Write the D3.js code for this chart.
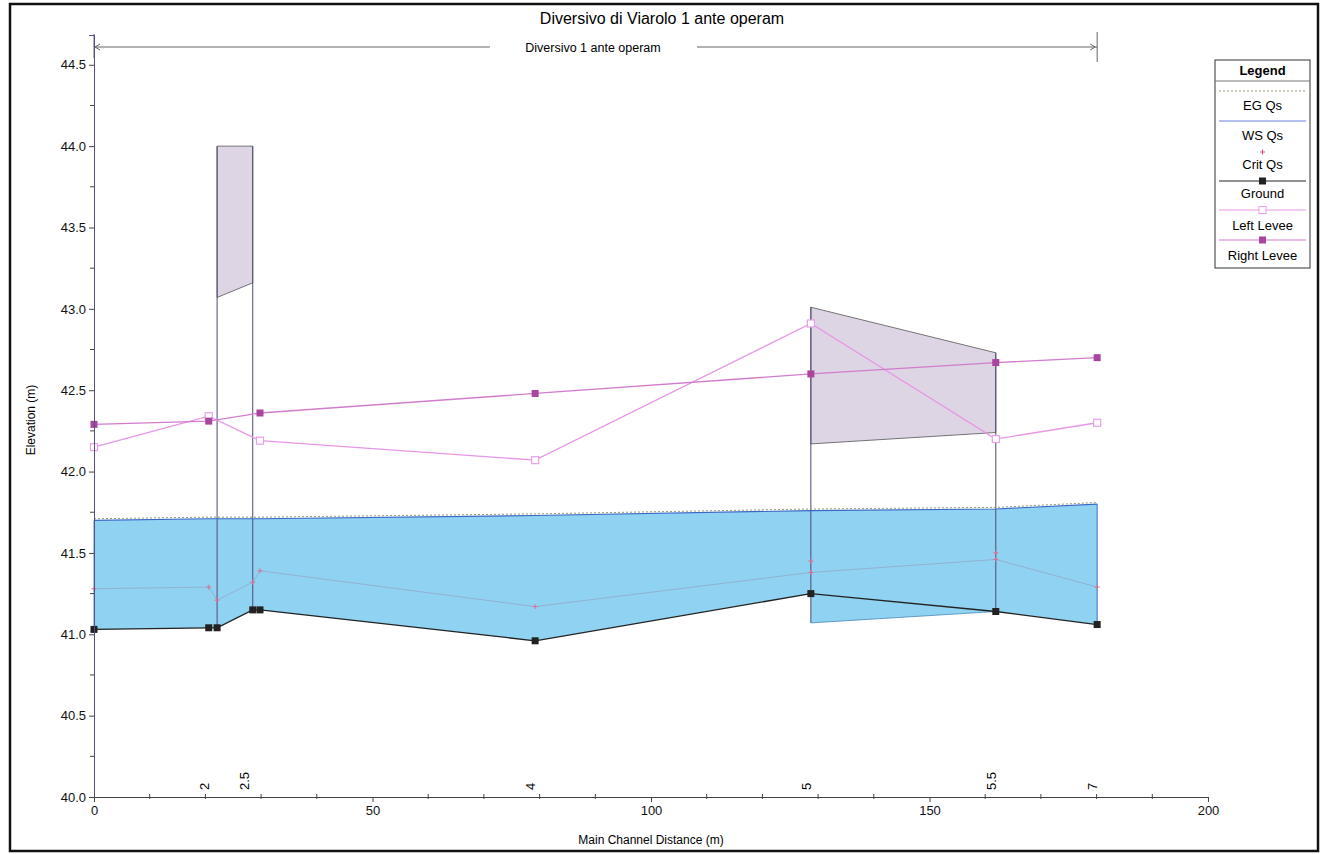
<!DOCTYPE html>
<html>
<head>
<meta charset="utf-8">
<script src="https://cdn.jsdelivr.net/npm/d3@7"></script>
<style>
  body { margin: 0; background: #fff; }
  svg { font-family: Arial, "Liberation Sans", sans-serif; }
</style>
</head>
<body>
<svg id="chart" width="1324" height="854"></svg>
<script>
// Stazioni del profilo (distanza lungo il canale, m)
const stations = [0, 20.6, 22.1, 28.5, 29.8, 79.2, 128.7, 161.9, 180.1]
const ground = [41.03, 41.04, 41.04, 41.15, 41.15, 40.96, 41.25, 41.14, 41.06]
const wsQs = [41.70, 41.71, 41.71, 41.71, 41.71, 41.73, 41.76, 41.77, 41.80]
const egQs = [41.71, 41.72, 41.72, 41.72, 41.72, 41.74, 41.77, 41.78, 41.81]
const critQs = [41.28, 41.29, 41.21, 41.32, 41.39, 41.17, 41.38, 41.46, 41.29]

// punti critici interni alla struttura
const critInnerStations = [128.7, 161.9]
const critInner = [41.45, 41.50]

// argini
const leveeStations = [0, 20.6, 29.8, 79.2, 128.7, 161.9, 180.1]
const leftLevee = [42.15, 42.34, 42.19, 42.07, 42.91, 42.20, 42.30]
const rightLevee = [42.29, 42.31, 42.36, 42.48, 42.60, 42.67, 42.70]

// ponte (sezione 2.5)
const bridgeStations = [22.1, 28.5]
const bridgeHigh = [44.0, 44.0]
const bridgeLow = [43.07, 43.16]
const bridgeGround = [41.04, 41.15]

// tombino / struttura tra 5 e 5.5
const culvertStations = [128.7, 161.9]
const culvertHigh = [43.01, 42.73]
const culvertLow = [42.17, 42.24]
const culvertInvert = [41.07, 41.14]

// etichette delle sezioni
const sectionLabels = ['2', '2.5', '4', '5', '5.5', '7']
const sectionPos = [20.6, 27.8, 79.2, 128.7, 161.9, 180.1]

const xTicks = [0, 50, 100, 150, 200]
const yTicks = [40.0, 40.5, 41.0, 41.5, 42.0, 42.5, 43.0, 43.5, 44.0, 44.5]

const svg = d3.select('#chart')

const x = d3.scaleLinear().domain([0, 200]).range([94, 1208])
const y = d3.scaleLinear().domain([40, 44.683]).range([797, 35])

const pts = (xs, ys) => xs.map((d, i) => [d, ys[i]])

// cornice esterna
svg.append('rect')
    .attr('x', 10).attr('y', 4).attr('width', 1308).attr('height', 847)
    .attr('fill', 'none').attr('stroke', '#111').attr('stroke-width', 2.5)

// titolo
svg.append('text')
    .attr('x', 662).attr('y', 24)
    .attr('text-anchor', 'middle')
    .attr('font-size', 16)
    .text('Diversivo di Viarolo 1 ante operam')

// riferimento del tratto con frecce
const reach = svg.append('g').attr('stroke', '#666').attr('fill', 'none')
reach.append('line').attr('x1', x(0)).attr('x2', 490).attr('y1', 47).attr('y2', 47)
reach.append('line').attr('x1', 697).attr('x2', x(180.1)).attr('y1', 47).attr('y2', 47)
reach.append('line').attr('x1', x(0)).attr('x2', x(0)).attr('y1', 34).attr('y2', 58)
reach.append('line').attr('x1', x(180.1)).attr('x2', x(180.1)).attr('y1', 32).attr('y2', 62)
reach.append('path').attr('d', `M${x(0) + 6},44 L${x(0) + 1},47 L${x(0) + 6},50`)
reach.append('path').attr('d', `M${x(180.1) - 7},44 L${x(180.1) - 2},47 L${x(180.1) - 7},50`)
svg.append('text')
    .attr('x', 593).attr('y', 52)
    .attr('text-anchor', 'middle')
    .attr('font-size', 12.5)
    .text('Diversivo 1 ante operam')

// area d'acqua
const area = d3.area().x(d => x(d[0])).y0(d => y(d[1])).y1(d => y(d[2]))
const waterFill = '#8fd2f2'
svg.append('path')
    .datum(stations.map((s, i) => [s, ground[i], wsQs[i]]))
    .attr('d', area)
    .attr('fill', waterFill)
svg.append('path')
    .datum(culvertStations.map((s, i) => [s, culvertInvert[i], ground[stations.indexOf(s)]]))
    .attr('d', area)
    .attr('fill', waterFill)
svg.append('line')
    .attr('x1', x(0)).attr('x2', x(0))
    .attr('y1', y(ground[0])).attr('y2', y(wsQs[0]))
    .attr('stroke', '#3aa0d0')
svg.append('line')
    .attr('x1', x(180.1)).attr('x2', x(180.1))
    .attr('y1', y(ground[8])).attr('y2', y(wsQs[8]))
    .attr('stroke', '#3a70c8')
svg.append('path')
    .datum(pts(culvertStations, culvertInvert))
    .attr('d', d3.line().x(d => x(d[0])).y(d => y(d[1])))
    .attr('fill', 'none').attr('stroke', '#4a8ab8').attr('stroke-width', 0.8)

// impalcati
const deck = (xs, hi, lo) => {
    const poly = xs.map((s, i) => [x(s), y(hi[i])])
        .concat(xs.map((s, i) => [x(s), y(lo[i])]).reverse())
    svg.append('path')
        .attr('d', 'M' + poly.join('L') + 'Z')
        .attr('fill', '#ddd4e4')
        .attr('stroke', '#555')
        .attr('stroke-width', 0.8)
}
deck(bridgeStations, bridgeHigh, bridgeLow)
deck(culvertStations, culvertHigh, culvertLow)

// montanti verticali delle strutture
const uprights = pts(bridgeStations, bridgeHigh).map((d, i) => [d[0], d[1], bridgeGround[i]])
    .concat(pts(culvertStations, culvertHigh).map((d, i) => [d[0], d[1], culvertInvert[i]]))
svg.append('g').selectAll('line')
    .data(uprights)
    .join('line')
    .attr('x1', d => x(d[0])).attr('x2', d => x(d[0]))
    .attr('y1', d => y(d[1])).attr('y2', d => y(d[2]))
    .attr('stroke', '#4d4a78')
    .attr('stroke-width', 1)

const line = d3.line().x(d => x(d[0])).y(d => y(d[1]))

// linea dei carichi critici
svg.append('path')
    .datum(pts(stations, critQs))
    .attr('d', line)
    .attr('fill', 'none').attr('stroke', '#9a7fa0').attr('stroke-opacity', 0.4).attr('stroke-width', 1)
svg.append('g').selectAll('path')
    .data(pts(stations, critQs).concat(pts(critInnerStations, critInner)))
    .join('path')
    .attr('d', d => `M${x(d[0]) - 2.5},${y(d[1])}h5M${x(d[0])},${y(d[1]) - 2.5}v5`)
    .attr('stroke', '#e07090').attr('stroke-width', 1)

// pelo libero e linea dell'energia
svg.append('path')
    .datum(pts(stations, wsQs))
    .attr('d', line)
    .attr('fill', 'none').attr('stroke', '#3a68c8').attr('stroke-width', 1.2)
svg.append('path')
    .datum(pts(stations, egQs))
    .attr('d', line)
    .attr('fill', 'none').attr('stroke', '#8f9a70').attr('stroke-width', 1)
    .attr('stroke-dasharray', '2,2')

// fondo
svg.append('path')
    .datum(pts(stations, ground))
    .attr('d', line)
    .attr('fill', 'none').attr('stroke', '#222').attr('stroke-width', 1.3)
svg.append('g').selectAll('rect')
    .data(pts(stations, ground))
    .join('rect')
    .attr('x', d => x(d[0]) - 3.5).attr('y', d => y(d[1]) - 3.5)
    .attr('width', 7).attr('height', 7)
    .attr('fill', '#222')

// argini
svg.append('path')
    .datum(pts(leveeStations, leftLevee))
    .attr('d', line)
    .attr('fill', 'none').attr('stroke', '#e896e6').attr('stroke-width', 1.3)
svg.append('path')
    .datum(pts(leveeStations, rightLevee))
    .attr('d', line)
    .attr('fill', 'none').attr('stroke', '#d27ccc').attr('stroke-width', 1.3)
svg.append('g').selectAll('rect')
    .data(pts(leveeStations, leftLevee))
    .join('rect')
    .attr('x', d => x(d[0]) - 3.5).attr('y', d => y(d[1]) - 3.5)
    .attr('width', 7).attr('height', 7)
    .attr('fill', '#fff').attr('stroke', '#e8a0e8').attr('stroke-width', 1.2)
svg.append('g').selectAll('rect')
    .data(pts(leveeStations, rightLevee))
    .join('rect')
    .attr('x', d => x(d[0]) - 3.5).attr('y', d => y(d[1]) - 3.5)
    .attr('width', 7).attr('height', 7)
    .attr('fill', '#a8459c')

// assi
const xAxis = svg.append('g')
    .attr('transform', `translate(0, ${y(40)})`)
    .call(d3.axisBottom(x).tickValues(xTicks).tickSize(5).tickPadding(4).tickFormat(d3.format('d')))
xAxis.append('g').selectAll('line')
    .data(d3.range(10, 200, 10).filter(v => v % 50 !== 0))
    .join('line')
    .attr('x1', d => x(d)).attr('x2', d => x(d))
    .attr('y1', -3).attr('y2', 2)
    .attr('stroke', '#444')
const yAxis = svg.append('g')
    .attr('transform', `translate(${x(0)}, 0)`)
    .call(d3.axisLeft(y).tickValues(yTicks).tickSize(5).tickPadding(3).tickFormat(d3.format('.1f')))
yAxis.append('g').selectAll('line')
    .data(d3.range(40.25, 44.6, 0.5))
    .join('line')
    .attr('x1', -4).attr('x2', 0)
    .attr('y1', d => y(d)).attr('y2', d => y(d))
    .attr('stroke', '#444')
svg.selectAll('.domain').attr('stroke', '#444')
yAxis.select('.domain').attr('stroke', '#5a4a80')
svg.selectAll('.tick text').attr('font-size', 13).attr('fill', '#111')
svg.selectAll('.tick line').attr('stroke', '#444')

// etichette sezioni
svg.append('g').selectAll('text')
    .data(sectionLabels)
    .join('text')
    .attr('transform', (d, i) => `translate(${x(sectionPos[i])}, 790) rotate(-90)`)
    .attr('font-size', 13)
    .text(d => d)

// titoli degli assi
svg.append('text')
    .attr('transform', 'translate(35, 420) rotate(-90)')
    .attr('text-anchor', 'middle')
    .attr('font-size', 12)
    .text('Elevation (m)')
svg.append('text')
    .attr('x', 651).attr('y', 844)
    .attr('text-anchor', 'middle')
    .attr('font-size', 12)
    .text('Main Channel Distance (m)')

// legenda
const lg = svg.append('g').attr('transform', 'translate(1215, 60)')
lg.append('rect').attr('width', 95).attr('height', 208)
    .attr('fill', '#fff').attr('stroke', '#333')
lg.append('text').attr('x', 47.5).attr('y', 15)
    .attr('text-anchor', 'middle').attr('font-size', 13).attr('font-weight', 'bold')
    .text('Legend')
lg.append('line').attr('x1', 0).attr('x2', 95).attr('y1', 21).attr('y2', 21).attr('stroke', '#777')

const legendItems = [
    { name: 'EG  Qs', ty: 50 },
    { name: 'WS  Qs', ty: 80 },
    { name: 'Crit  Qs', ty: 109 },
    { name: 'Ground', ty: 138 },
    { name: 'Left Levee', ty: 170 },
    { name: 'Right Levee', ty: 200 }
]
legendItems.forEach(it => {
    lg.append('text').attr('x', 47.5).attr('y', it.ty)
        .attr('text-anchor', 'middle').attr('font-size', 13)
        .text(it.name)
})
lg.append('line').attr('x1', 4).attr('x2', 91).attr('y1', 31).attr('y2', 31)
    .attr('stroke', '#8f9a70').attr('stroke-dasharray', '2,2')
lg.append('line').attr('x1', 4).attr('x2', 91).attr('y1', 61).attr('y2', 61)
    .attr('stroke', '#6a7ee0')
lg.append('path').attr('d', 'M45,92h5M47.5,89.5v5').attr('stroke', '#e05070')
lg.append('line').attr('x1', 4).attr('x2', 91).attr('y1', 121).attr('y2', 121).attr('stroke', '#222')
lg.append('rect').attr('x', 44).attr('y', 117.5).attr('width', 7).attr('height', 7).attr('fill', '#222')
lg.append('line').attr('x1', 4).attr('x2', 91).attr('y1', 150).attr('y2', 150).attr('stroke', '#e896e6')
lg.append('rect').attr('x', 44).attr('y', 146.5).attr('width', 7).attr('height', 7)
    .attr('fill', '#fff').attr('stroke', '#e8a0e8')
lg.append('line').attr('x1', 4).attr('x2', 91).attr('y1', 180).attr('y2', 180).attr('stroke', '#d27ccc')
lg.append('rect').attr('x', 44).attr('y', 176.5).attr('width', 7).attr('height', 7).attr('fill', '#a8459c')
</script>
</body>
</html>
